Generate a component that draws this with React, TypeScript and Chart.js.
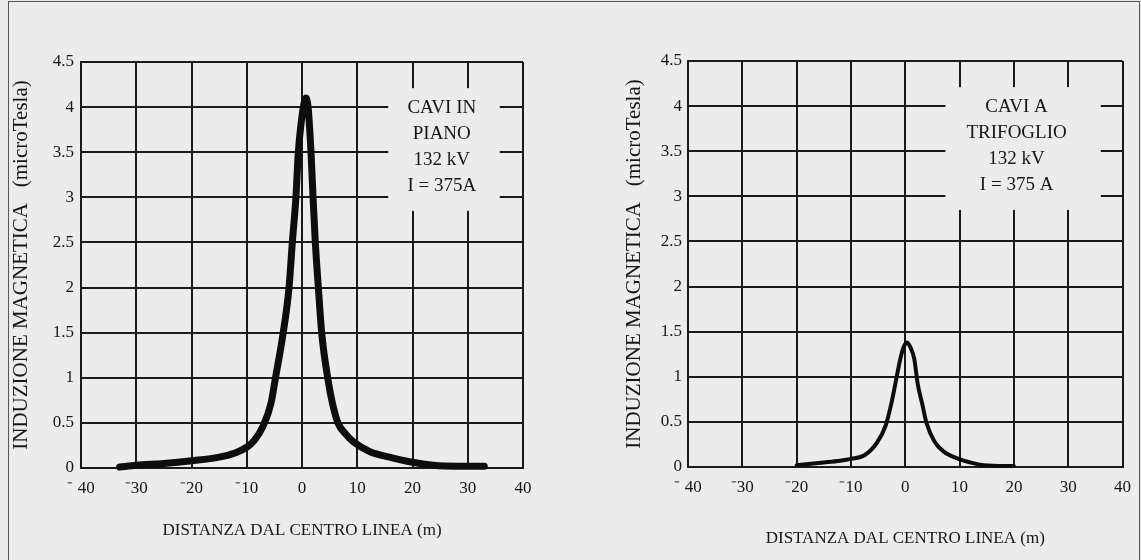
import React, { useEffect, useRef } from "react";
import { Chart, registerables } from "chart.js";

Chart.register(...registerables);

// ---------- data ----------
const leftX = [-33, -30, -25, -20, -15, -12, -10, -8.7, -7, -5.6, -4.8, -3.4, -2.35, -1.75, -1.1, -0.67, -0.2, 0.3, 0.7, 1.1, 1.63, 2.0, 2.41, 2.96, 3.56, 4.65, 5.5, 6.5, 8, 9.3, 12.3, 16.5, 19.5, 23.8, 28, 33];
const leftY = [0.01, 0.03, 0.05, 0.08, 0.12, 0.17, 0.23, 0.3, 0.47, 0.72, 1.0, 1.5, 2.0, 2.5, 3.0, 3.5, 3.8, 4.02, 4.1, 4.0, 3.5, 3.0, 2.5, 2.0, 1.5, 1.0, 0.72, 0.5, 0.37, 0.29, 0.18, 0.11, 0.07, 0.03, 0.02, 0.02];

const rightX = [-20, -15, -12, -10, -7.5, -5.2, -3.6, -2.65, -1.8, -0.9, -0.3, 0.35, 1.0, 1.65, 2.3, 3.2, 3.9, 5.4, 7.1, 9.8, 12, 14.5, 20];
const rightY = [0.02, 0.05, 0.07, 0.09, 0.13, 0.27, 0.46, 0.68, 0.93, 1.2, 1.33, 1.38, 1.32, 1.2, 0.92, 0.68, 0.49, 0.28, 0.17, 0.09, 0.05, 0.02, 0.01];

const xTickLabels = ["\u207B 40", "\u207B30", "\u207B20", "\u207B10", "0", "10", "20", "30", "40"];
const yTickLabels = ["0", "0.5", "1", "1.5", "2", "2.5", "3", "3.5", "4", "4.5"];

const yTitleText = "INDUZIONE MAGNETICA   (microTesla)";
const xTitleText = "DISTANZA DAL CENTRO LINEA (m)";

const leftNote = ["CAVI IN", "PIANO", "132 kV", "I = 375A"];
const rightNote = ["CAVI A", "TRIFOGLIO", "132 kV", "I = 375 A"];

// ---------- styles ----------
const BG = "#ececec";
const INK = "#161616";
const FONT = "'Liberation Serif', 'Times New Roman', serif";

Chart.defaults.font.family = FONT;
Chart.defaults.color = INK;

type Panel = {
  xs: number[];
  ys: number[];
  note: string[];
  box: { x0: number; x1: number; y0: number; y1: number; tx: number };
  pad: { left: number; top: number; right: number; bottom: number };
  yWidth: number;
  xHeight: number;
  yTickPad: number;
  xTickPad: number;
  yTitlePad: number;
  xTitlePad: number;
  lineWidth: number;
};

const LEFT: Panel = {
  xs: leftX,
  ys: leftY,
  note: leftNote,
  box: { x0: 15.6, x1: 35.8, y0: 2.85, y1: 4.21, tx: 25.3 },
  pad: { left: 0, top: 62, right: 77, bottom: 0 },
  yWidth: 81,
  xHeight: 92,
  yTickPad: 7,
  xTickPad: 10,
  yTitlePad: 9,
  xTitlePad: 19,
  lineWidth: 7,
};

const RIGHT: Panel = {
  xs: rightX,
  ys: rightY,
  note: rightNote,
  box: { x0: 7.4, x1: 36, y0: 2.85, y1: 4.21, tx: 20.5 },
  pad: { left: 0, top: 61, right: 14, bottom: 0 },
  yWidth: 88,
  xHeight: 93,
  yTickPad: 6,
  xTickPad: 10,
  yTitlePad: 22,
  xTitlePad: 11,
  lineWidth: 4,
};

function makeNotePlugin(p: Panel) {
  return {
    id: "noteBox",
    beforeDatasetsDraw(chart: any) {
      const { ctx } = chart;
      const x = chart.scales.x;
      const y = chart.scales.y;
      const l = x.getPixelForValue(p.box.x0);
      const r = x.getPixelForValue(p.box.x1);
      const t = y.getPixelForValue(p.box.y1);
      const b = y.getPixelForValue(p.box.y0);
      ctx.save();
      ctx.fillStyle = BG;
      ctx.fillRect(l, t, r - l, b - t);
      ctx.fillStyle = INK;
      ctx.font = `19px ${FONT}`;
      ctx.textAlign = "center";
      ctx.textBaseline = "middle";
      const cx = x.getPixelForValue(p.box.tx);
      p.note.forEach((s, i) => ctx.fillText(s, cx, t + 20 + i * 25.8));
      ctx.restore();
    },
  };
}

function makeConfig(p: Panel): any {
  const gridColor = "#1a1a1a";
  return {
    type: "line",
    data: {
      datasets: [
        {
          data: p.xs.map((v, i) => ({ x: v, y: p.ys[i] })),
          borderColor: "#0d0d0d",
          borderWidth: p.lineWidth,
          pointRadius: 0,
          fill: false,
          cubicInterpolationMode: "monotone",
          borderJoinStyle: "round",
          borderCapStyle: "round",
          clip: false,
        },
      ],
    },
    options: {
      responsive: false,
      animation: false,
      devicePixelRatio: 1,
      layout: { padding: p.pad },
      plugins: { legend: { display: false }, tooltip: { enabled: false } },
      scales: {
        x: {
          type: "linear",
          min: -40,
          max: 40,
          afterFit: (s: any) => {
            s.height = p.xHeight;
          },
          ticks: {
            stepSize: 10,
            padding: p.xTickPad,
            maxRotation: 0,
            autoSkip: false,
            font: { size: 17 },
            color: INK,
            callback: (_v: any, i: number) => xTickLabels[i],
          },
          grid: { color: gridColor, lineWidth: 2, drawTicks: false },
          border: { color: gridColor, width: 2 },
          title: {
            display: true,
            text: xTitleText,
            font: { size: 17 },
            color: INK,
            padding: { top: 0, bottom: p.xTitlePad },
          },
        },
        y: {
          type: "linear",
          min: 0,
          max: 4.5,
          afterFit: (s: any) => {
            s.width = p.yWidth;
          },
          ticks: {
            stepSize: 0.5,
            padding: p.yTickPad,
            font: { size: 17 },
            color: INK,
            callback: (_v: any, i: number) => yTickLabels[i],
          },
          grid: { color: gridColor, lineWidth: 2, drawTicks: false },
          border: { color: gridColor, width: 2 },
          title: {
            display: true,
            text: yTitleText,
            font: { size: 21 },
            color: INK,
            padding: { top: p.yTitlePad, bottom: 0 },
          },
        },
      },
    },
    plugins: [makeNotePlugin(p)],
  };
}

export default function App() {
  const leftRef = useRef<HTMLCanvasElement>(null);
  const rightRef = useRef<HTMLCanvasElement>(null);

  useEffect(() => {
    const c1 = new Chart(leftRef.current as HTMLCanvasElement, makeConfig(LEFT));
    const c2 = new Chart(rightRef.current as HTMLCanvasElement, makeConfig(RIGHT));
    return () => {
      c1.destroy();
      c2.destroy();
    };
  }, []);

  return (
    <div
      style={{
        position: "fixed",
        left: 0,
        top: 0,
        width: 1141,
        height: 560,
        background: BG,
        overflow: "hidden",
      }}
    >
      <div
        style={{
          position: "absolute",
          left: 8,
          top: 1,
          width: 1132,
          height: 600,
          border: "1px solid #555",
          boxSizing: "border-box",
        }}
      />
      <canvas ref={leftRef} width={600} height={560} style={{ position: "absolute", left: 0, top: 0 }} />
      <canvas ref={rightRef} width={541} height={560} style={{ position: "absolute", left: 600, top: 0 }} />
    </div>
  );
}
